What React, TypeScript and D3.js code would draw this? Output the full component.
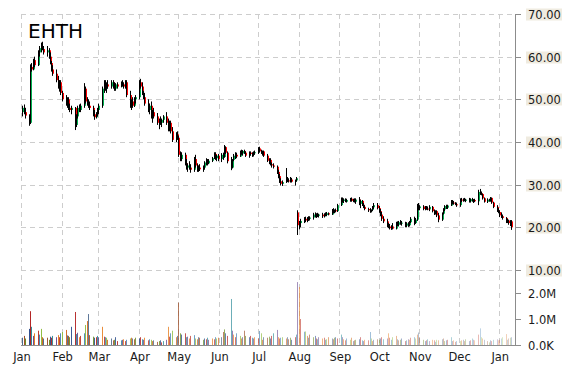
import React from 'react';
import * as d3 from 'd3';

const TICKER = 'EHTH';
const FIRST_DAY = '2019-01-02';
const LAST_DAY = '2020-01-10';
const DOMAIN_START = '2019-01-01';
const DOMAIN_END = '2020-01-13';

const priceTicks = [10, 20, 30, 40, 50, 60, 70];
const volumeTicks = [0, 1, 2]; // millions
const volumeTickLabels = ['0.0K', '1.0M', '2.0M'];

// daily [open, high, low, close]
const ohlc: number[][] = [
  // Jan
  [47,48.5,46,48],[48,48.8,46.5,47],[47,48,45.5,46.2],[46.2,46.5,43.8,44.5],[44.5,58.2,44.2,57.6],[57.6,58.5,56.5,57],[57,59.5,56.8,59.2],[59.2,60,57.5,58],
  [58,61.5,57.8,61],[61,62.5,60,62],[62,63.3,61,62.5],[62.5,63.5,61.5,61.8],[61.8,62.5,60.5,61],[61,62.5,60,61.5],[61.5,62,59.5,60],[60,61,58.2,58.5],
  [58.5,59,56.5,57],[57,58,55.5,56],[56,57,54,54.5],[54.5,55.5,52.5,53],[53,54.5,51.8,54],[54,54.5,51,51.5],
  // Feb
  [51.5,52,49.5,50],[50,51,48.5,49],[49,50.5,48,50],[50,50.5,47.5,48],[48,49,47,47.5],[47.5,48.5,46.5,48],[48,48.2,42.8,44],[44,46.5,43.5,46],
  [46,48.5,45.5,48],[48,48.8,47,47.5],[47.5,49,47,48.5],[48.5,53.8,48,52.5],[52.5,53,49,49.5],[49.5,50.5,48.5,49],[49,50,48,48.5],[48.5,49.5,47.5,48],
  [48,48.5,46,46.5],[46.5,47.5,45.2,45.8],[45.8,47,45.5,46.8],[46.8,48,46,47.5],
  // Mar
  [47.5,49,46.5,48.5],[48.5,53,48,52.5],[52.5,54.5,51.5,53.5],[53.5,54.5,52,52.5],[52.5,54,51.5,53.5],[53.5,54.5,52.5,53],[53,54.5,52.5,54],[54,54.5,52.5,53],
  [53,54,52,52.5],[52.5,53.8,52,53.5],[53.5,54,52.5,53],[53,54.2,52.8,53.8],[53.8,54.5,53,53.5],[53.5,54,52.5,53],[53,54.5,52.5,54],[54,54.5,50.5,51],
  [51,52,48,48.5],[48.5,50,47.5,49.5],[49.5,50.5,48,48.5],[48.5,50.5,48.2,50],[50,51,49,50.5],
  // Apr
  [50.5,54.5,50,54],[54,54.8,52.5,53],[53,54,51,51.5],[51.5,52,50,50.5],[50.5,51.5,48.5,49],[49,50,47,47.5],[47.5,49,46.5,48.5],[48.5,49.5,45.5,46],
  [46,47.5,44.5,47],[47,48,45.5,46],[46,46.8,44,44.5],[44.5,45.5,43,45],[45,46,44,44.5],[44.5,45.5,43.5,45.2],[45.2,46.3,44.5,46],[46,47,44,44.5],
  [44.5,45.5,42.5,43],[43,45,42.5,44.5],[44.5,45,42,42.5],[42.5,43.5,40,40.5],[40.5,42.3,40,41.8],[41.8,42.5,40.5,41],
  // May
  [41,41.5,36.5,37],[37,37.8,35.5,36],[36,37.6,35.5,37],[37,37.5,34.5,35],[35,36,33.5,34],[34,35,33,34.5],[34.5,35.5,33.5,34],[34,34.8,32.8,33.5],
  [33.5,36.5,33,36],[36,37,34,34.5],[34.5,35,33,33.5],[33.5,34.5,33,34],[34,34.8,33.2,33.6],[33.6,34.5,33,34],[34,35.5,33.5,35.2],[35.2,36.2,34.5,35.8],
  [35.8,36,34.5,35],[35,36,34.8,35.6],[35.6,36.5,35.3,36.2],[36.2,37.6,36,37.2],[37.2,37.6,35.8,36.2],[36.2,37,35.5,36.8],[36.8,37.2,35.5,36],
  // Jun
  [36,37.4,35.3,37],[37,37.5,35.8,36.5],[36.5,39.3,36.3,38.8],[38.8,39,37.2,37.5],[37.5,37.8,35,35.5],[35.5,36.5,33.4,34],[34,36,33.8,35.8],[35.8,37.2,35.5,36.8],
  [36.8,37.6,36,37],[37,37.5,36.2,36.6],[36.6,38,36.5,37.8],[37.8,38.2,37,37.3],[37.3,38.1,36.8,37.9],[37.9,38.2,37.2,37.5],[37.5,37.8,36.5,36.8],[36.8,37.8,36.3,37.5],
  [37.5,37.8,36.8,37.2],[37.2,37.6,36.5,37],[37,37.8,36.6,37.4],[37.4,38,37,37.6],
  // Jul
  [37.6,38.8,37.2,38.5],[38.5,38.9,37.5,37.8],[37.8,38.2,37.2,37.5],[37.5,38,36.8,37.8],[37.8,38,36.5,36.8],[36.8,37.2,35.3,35.6],[35.6,36.2,34.8,35.8],[35.8,36.2,34.5,34.8],
  [34.8,35.2,34,34.5],[34.5,35,33.8,34.2],[34.2,34.5,32.5,33],[33,33.5,31.5,32],[32,32.5,30.4,30.8],[30.8,31.5,29.8,30.2],[30.2,31,29.7,30.6],[30.8,33.9,30.4,31.2],
  [31.2,31.8,30.6,31],[31,31.5,30.5,30.8],[30.8,31.8,30.5,31.2],[31.2,31.6,30.5,30.7],[30.7,31.2,29.8,31],[31,31.8,30.7,31.5],[23.5,24,18.2,20.5],
  // Aug
  [20.5,21.5,19.5,21],[21,22,20,21.5],[21.5,22.4,21,22],[22,22.5,21.2,21.6],[21.6,22.4,21.2,22.2],[22.2,22.6,21.5,22],[22,22.6,21.6,22.3],[22.3,23.4,21.8,23],
  [23,23.5,22.3,22.8],[22.8,23.3,22.2,23],[23,23.4,22.4,22.7],[22.7,23.2,22.3,23],[23,23.4,22.2,22.6],[22.6,23.3,22.3,23.1],[23.1,23.5,22.6,22.9],[22.9,23.6,22.6,23.3],
  [23.3,23.5,22.8,23],[23,24.3,22.9,24],[24,24.5,23.3,23.6],[23.6,24.2,23.3,24],[24,24.4,23.5,23.8],[23.8,25.5,23.6,25.2],
  // Sep
  [25.2,27,25,26.6],[26.6,27,25.8,26.2],[26.2,26.8,25.7,26.5],[26.5,26.8,25.9,26],[26,26.7,25.8,26.4],[26.4,26.9,26,26.7],[26.7,27,26,26.2],[26.2,26.7,25.9,26.5],
  [26.5,26.8,25.8,26],[26,26.8,25.5,26.5],[26.5,27.1,25.2,25.5],[25.5,26.5,24.5,26.2],[26.2,26.4,25,25.3],[25.3,25.7,24.5,24.8],[24.8,25.2,24,24.3],[24.3,24.6,23.6,24],
  [24,24.5,23.4,23.8],[23.8,24.2,23.5,24.1],[24.1,25,23.8,24.7],[24.7,25.7,24.3,25.2],[25.2,25.7,24.2,24.5],
  // Oct
  [24.5,25,23.4,23.8],[23.8,24.3,22.6,23],[23,23.6,21.5,22],[22,22.6,21,21.4],[21.4,22,20,20.4],[20.4,21,19.8,20.2],[20.2,20.8,19.5,19.8],[19.8,20.5,19.4,20.2],
  [20.2,21,19.5,19.7],[19.7,21.3,19.5,21],[21,21.4,20.3,20.6],[20.6,21.5,20.2,21.2],[21.2,21.7,20.6,20.9],[20.9,21.5,20.4,21.1],[21.1,21.3,20,20.4],[20.4,21.2,20,20.9],
  [20.9,21.2,20.1,20.5],[20.5,21.5,20.2,21.2],[21.2,22.4,21,22],[22,22.5,20.5,21],[21,22.2,20.8,21.8],[21.8,25.5,21.5,25],[25,25.7,24,24.5],
  // Nov
  [24.5,25.2,24,24.9],[24.9,25.2,24,24.3],[24.3,25,24,24.7],[24.7,25,24.1,24.4],[24.4,24.9,24,24.2],[24.2,25.2,23.8,24.8],[24.8,25,23.5,23.8],[23.8,24.2,22.9,23.3],
  [23.3,24,23,23.8],[23.8,24,22.4,22.8],[22.8,23.4,21.2,21.8],[21.8,23.5,21.5,23.2],[23.2,24.5,23,24.2],[24.2,25.2,23.8,25],[25,25.3,24.3,24.6],[24.6,25.3,24.3,25.1],
  [25.1,26.4,25,26.1],[26.1,26.4,25.4,25.8],[25.8,26.2,25.3,25.6],[25.6,25.9,25.2,25.4],[25.4,25.8,24.8,25.2],
  // Dec
  [25.2,26.8,24.8,26.5],[26.5,26.9,25.9,26.3],[26.3,26.8,26,26.6],[26.6,26.9,26.1,26.2],[26.2,26.7,25.9,26.5],[26.5,26.9,25.8,26.1],[26.1,26.8,25.8,26.6],[26.6,26.9,26,26.2],
  [26.2,26.6,25.7,26.4],[26.4,26.7,25.9,26.1],[26.1,28.8,25.2,28.3],[28.3,29,27.6,28],[28,28.4,27.5,27.8],[27.8,27.9,26.5,26.8],[26.8,27,25.8,26],[26,26.8,25.7,26.5],
  [26.5,26.7,26,26.3],[26.3,27.1,26,26.9],[26.9,27,25.5,25.8],[25.8,26,24.5,24.8],[24.8,25.2,23.6,24],[24,24.5,23.3,23.6],
  // Jan
  [23.6,24,22.4,22.8],[22.8,23.5,22.2,22.6],[22.6,23,21.8,22.2],[22.2,22.4,21,21.3],[21.3,22,21,21.6],[21.6,21.8,20.6,21],[21,21.7,20.3,21.4],[21.4,21.7,19.4,20],
];

// daily volume, millions of shares
const volume: number[] = [
  0.28,0.35,0.25,0.62,1.30,0.70,0.35,0.45,0.55,0.40,0.62,0.30,0.25,0.28,0.20,0.32,0.28,0.35,0.30,0.38,0.30,0.45,
  0.50,0.58,0.37,0.35,0.30,0.70,1.27,0.42,0.47,0.30,0.35,0.45,0.77,0.92,1.19,0.38,0.32,0.28,0.30,0.35,
  0.30,0.70,0.32,0.30,0.28,0.20,0.25,0.18,0.20,0.30,0.15,0.18,0.20,0.22,0.15,0.20,0.25,0.28,0.25,0.22,0.28,
  0.25,0.30,0.22,0.20,0.28,0.18,0.22,0.20,0.15,0.18,0.12,0.15,0.18,0.10,0.15,0.20,0.70,0.32,0.45,0.55,0.30,0.35,
  1.63,0.45,0.40,0.45,0.30,0.32,0.25,0.35,0.38,0.25,0.22,0.30,0.28,0.20,0.25,0.22,0.28,0.20,0.25,0.22,0.30,0.25,0.28,
  0.30,0.50,0.60,0.45,0.35,1.77,0.55,0.40,0.30,0.45,0.35,0.25,0.30,0.55,0.35,0.30,0.35,0.28,0.25,0.30,
  0.25,0.54,0.45,0.20,0.30,0.28,0.32,0.25,0.35,0.45,0.58,0.30,0.25,0.28,0.30,0.25,0.30,0.22,0.28,0.20,0.30,0.40,2.42,
  2.23,1.00,0.51,0.52,0.35,0.28,0.40,0.30,0.35,0.25,0.22,0.30,0.25,0.28,0.20,0.22,0.30,0.25,0.22,0.28,0.30,0.25,
  0.40,0.30,0.22,0.18,0.25,0.20,0.28,0.15,0.18,0.20,0.22,0.30,0.18,0.15,0.20,0.18,0.50,0.25,0.15,0.20,0.22,
  0.20,0.25,0.30,0.22,0.25,0.45,0.28,0.20,0.30,0.35,0.22,0.18,0.20,0.25,0.15,0.18,0.22,0.20,0.28,0.30,0.25,0.40,0.48,
  0.30,0.20,0.15,0.18,0.22,0.15,0.20,0.18,0.12,0.20,0.18,0.22,0.25,0.15,0.18,0.20,0.30,0.15,0.18,0.12,0.15,
  0.15,0.18,0.20,0.15,0.22,0.15,0.18,0.25,0.20,0.18,0.40,0.64,0.30,0.25,0.20,0.15,0.10,0.18,0.15,0.20,0.22,0.18,
  0.20,0.25,0.30,0.42,0.20,0.25,0.28,0.30,
];

const volumePalette = ['#4e6a8e', '#a0522d', '#6b8e23', '#2f4f8f', '#b22222', '#2e8b9a', '#6a4c93', '#e67e22', '#c0392b', '#4682b4', '#8fbc3f', '#d2691e'];

const UP = '#00b050';
const DOWN = '#ff0000';
const GRID = '#cdcdcd';
const AXIS = '#8c8c8c';
const FONT = '"DejaVu Sans", Verdana, sans-serif';

const parse = d3.timeParse('%Y-%m-%d');

function tradingDays(): Date[] {
  const days = d3.timeDay.range(parse(FIRST_DAY)!, d3.timeDay.offset(parse(LAST_DAY)!, 1));
  return days.filter((d) => d.getDay() !== 0 && d.getDay() !== 6);
}

export default function App() {
  const W = 570, H = 370;
  const left = 21, right = 515, top = 14, priceBottom = 270, volBottom = 345;

  const dates = tradingDays();
  const n = Math.min(dates.length, ohlc.length, volume.length);

  const x = d3.scaleTime().domain([parse(DOMAIN_START)!, parse(DOMAIN_END)!]).range([left, right]);
  const y = d3.scaleLinear().domain([10, 70]).range([priceBottom, top]);
  const yv = d3.scaleLinear().domain([0, 2]).range([volBottom, 293]);

  const months = d3.timeMonth.range(parse(DOMAIN_START)!, d3.timeDay.offset(parse(DOMAIN_END)!, -5));
  const fmt = d3.timeFormat('%b');

  const bars = d3.range(n).map((i) => {
    const [o, h, l, c] = ohlc[i];
    const cx = Math.round(x(dates[i]));
    return { i, o, h, l, c, cx, v: volume[i] };
  });

  return (
    <svg width={W} height={H} style={{ position: 'absolute', left: 0, top: 0, background: '#fff' }} fontFamily={FONT}>
      {/* horizontal grid */}
      {priceTicks.map((t) => (
        <line key={'hg' + t} x1={left} x2={right} y1={Math.round(y(t)) + 0.5} y2={Math.round(y(t)) + 0.5}
          stroke={GRID} strokeDasharray="5,4" />
      ))}
      {/* vertical grid */}
      {months.map((m, k) => (
        <line key={'vg' + k} x1={Math.round(x(m)) + 0.5} x2={Math.round(x(m)) + 0.5} y1={top} y2={volBottom}
          stroke={GRID} strokeDasharray="5,4" />
      ))}

      {/* volume bars */}
      {bars.map((b) => (
        <rect key={'v' + b.i} x={b.cx} y={yv(b.v)} width={1} height={volBottom - yv(b.v)}
          fill={volumePalette[b.i % volumePalette.length]}
          fillOpacity={1 - 0.7 * (b.i / (n - 1))} />
      ))}

      {/* candles */}
      {bars.map((b) => {
        const up = b.c >= b.o;
        const yt = y(Math.max(b.o, b.c));
        const yb = y(Math.min(b.o, b.c));
        return (
          <g key={'c' + b.i}>
            <rect x={b.cx} y={yt} width={2} height={Math.max(1, yb - yt)} fill={up ? UP : DOWN} />
            <line x1={b.cx + 0.5} x2={b.cx + 0.5} y1={y(b.h)} y2={y(b.l)} stroke="#000" strokeWidth={1} />
          </g>
        );
      })}

      {/* axes */}
      <line x1={right + 0.5} x2={right + 0.5} y1={top} y2={volBottom + 0.5} stroke={AXIS} />
      <line x1={left} x2={right + 0.5} y1={volBottom + 0.5} y2={volBottom + 0.5} stroke={AXIS} />

      {priceTicks.map((t) => {
        const yy = Math.round(y(t)) + 0.5;
        return (
          <g key={'pt' + t}>
            <line x1={right} x2={right + 6} y1={yy} y2={yy} stroke={AXIS} />
            <rect x={526} y={yy - 6} width={36} height={12} fill="#efebe0" />
            <text x={528} y={yy} dy="0.36em" fontSize={11.5} fill="#1a1a1a">{t.toFixed(2)}</text>
          </g>
        );
      })}
      {volumeTicks.map((t, k) => {
        const yy = Math.round(yv(t)) + 0.5;
        return (
          <g key={'vt' + t}>
            <line x1={right} x2={right + 6} y1={yy} y2={yy} stroke={AXIS} />
            <text x={528} y={yy} dy="0.36em" fontSize={11.5} fill="#1a1a1a">{volumeTickLabels[k]}</text>
          </g>
        );
      })}

      {months.map((m, k) => (
        <text key={'ml' + k} x={x(m) + 1} y={361} textAnchor="middle" fontSize={11.5} fill="#1a1a1a">{fmt(m)}</text>
      ))}

      <text x={28} y={38} fontSize={20} fill="#000">{TICKER}</text>
    </svg>
  );
}
